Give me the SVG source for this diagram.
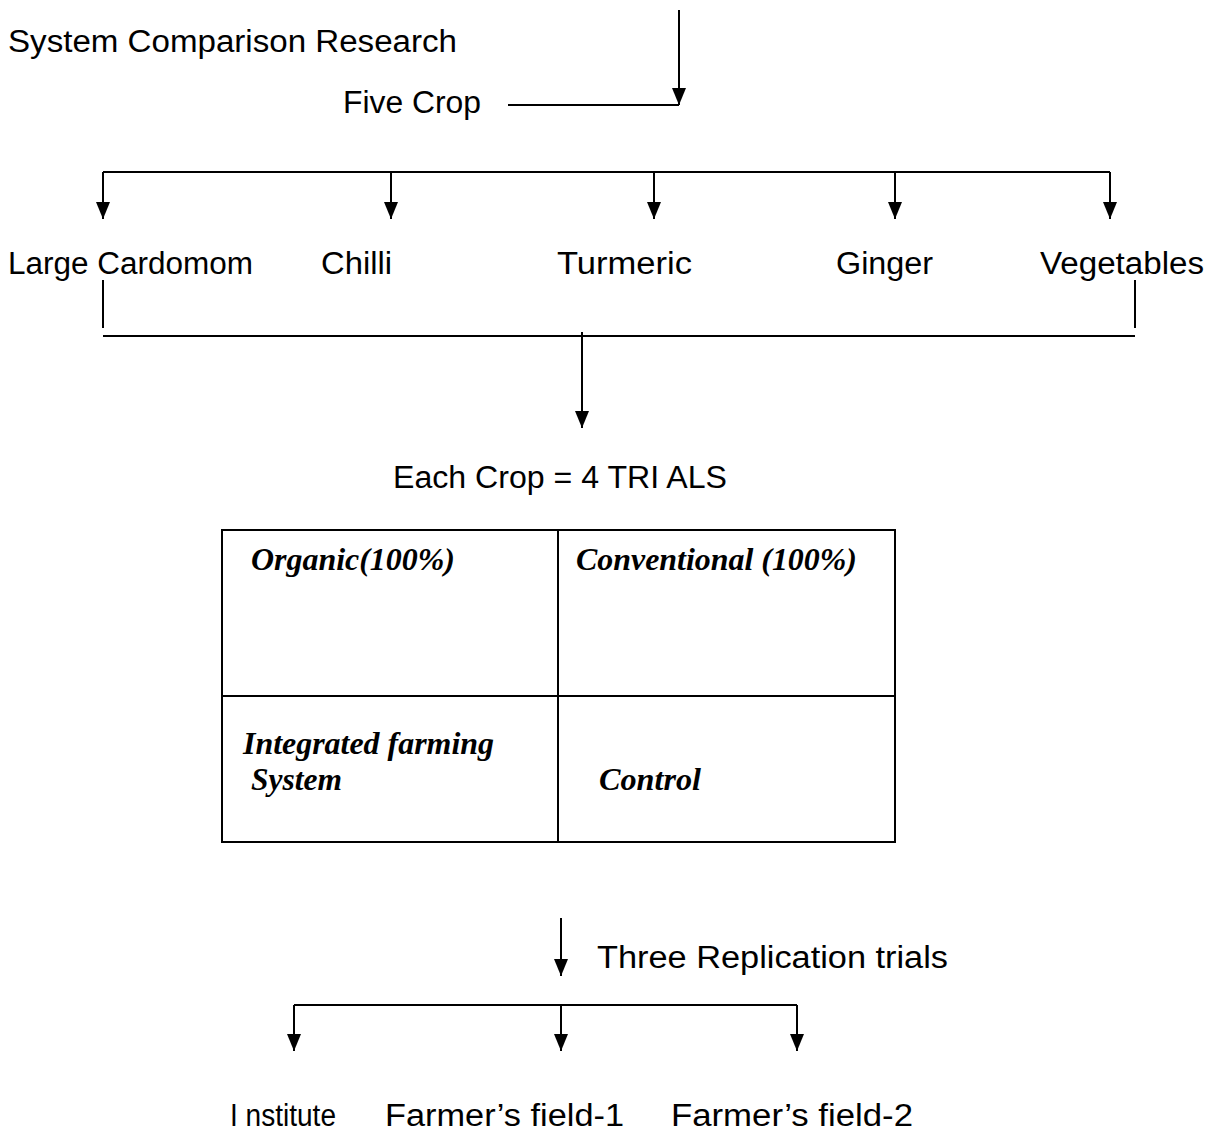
<svg xmlns="http://www.w3.org/2000/svg" width="1217" height="1132" viewBox="0 0 1217 1132">
<style>
.t{font-family:"Liberation Sans",Arial,sans-serif;font-size:31px;fill:#000}
.i{font-family:"Liberation Serif","Times New Roman",serif;font-size:31px;font-style:italic;font-weight:bold;fill:#000}
.l{stroke:#000;stroke-width:2;fill:none}
</style>
<defs>
<marker id="ah" markerWidth="17" markerHeight="14" refX="17" refY="7" orient="auto" markerUnits="userSpaceOnUse" viewBox="0 0 17 14">
<path d="M0,0 L17,7 L0,14 Z" fill="#000"/>
</marker>
</defs>
<rect width="1217" height="1132" fill="#fff"/>
<g id="connectors">
<path class="l" d="M679,10 V105" marker-end="url(#ah)"/>
<line class="l" x1="508" y1="105" x2="679" y2="105"/>
<line class="l" x1="103" y1="172" x2="1110" y2="172"/>
<path class="l" d="M103,172 V219" marker-end="url(#ah)"/>
<path class="l" d="M391,172 V219" marker-end="url(#ah)"/>
<path class="l" d="M654,172 V219" marker-end="url(#ah)"/>
<path class="l" d="M895,172 V219" marker-end="url(#ah)"/>
<path class="l" d="M1110,172 V219" marker-end="url(#ah)"/>
<line class="l" x1="103" y1="280" x2="103" y2="328"/>
<line class="l" x1="1135" y1="280" x2="1135" y2="328"/>
<line class="l" x1="103" y1="336" x2="1135" y2="336"/>
<path class="l" d="M582,332 V428" marker-end="url(#ah)"/>
<path class="l" d="M561,918 V976" marker-end="url(#ah)"/>
<line class="l" x1="294" y1="1005" x2="797" y2="1005"/>
<path class="l" d="M294,1005 V1051" marker-end="url(#ah)"/>
<path class="l" d="M561,1005 V1051" marker-end="url(#ah)"/>
<path class="l" d="M797,1005 V1051" marker-end="url(#ah)"/>
</g>
<g id="title"><text class="t" x="8" y="52" textLength="449" lengthAdjust="spacingAndGlyphs">System Comparison Research</text></g>
<g id="five-crop"><text class="t" x="343" y="113" textLength="138" lengthAdjust="spacingAndGlyphs">Five Crop</text></g>
<g id="large-cardomom"><text class="t" x="8" y="274" textLength="245" lengthAdjust="spacingAndGlyphs">Large Cardomom</text></g>
<g id="chilli"><text class="t" x="321" y="274" textLength="71" lengthAdjust="spacingAndGlyphs">Chilli</text></g>
<g id="turmeric"><text class="t" x="557" y="274" textLength="135" lengthAdjust="spacingAndGlyphs">Turmeric</text></g>
<g id="ginger"><text class="t" x="836" y="274" textLength="97" lengthAdjust="spacingAndGlyphs">Ginger</text></g>
<g id="vegetables"><text class="t" x="1040" y="274" textLength="164" lengthAdjust="spacingAndGlyphs">Vegetables</text></g>
<g id="each-crop"><text class="t" x="393" y="488" textLength="334" lengthAdjust="spacingAndGlyphs">Each Crop = 4 TRI ALS</text></g>
<g id="trials-table">
<rect class="l" x="222" y="530" width="673" height="312"/>
<line class="l" x1="558" y1="530" x2="558" y2="842"/>
<line class="l" x1="222" y1="696" x2="895" y2="696"/>
<text class="i" x="251" y="570" textLength="204" lengthAdjust="spacingAndGlyphs">Organic(100%)</text>
<text class="i" x="576" y="570" textLength="281" lengthAdjust="spacingAndGlyphs">Conventional (100%)</text>
<text class="i" x="243" y="754" textLength="251" lengthAdjust="spacingAndGlyphs">Integrated farming</text>
<text class="i" x="251" y="790" textLength="91" lengthAdjust="spacingAndGlyphs">System</text>
<text class="i" x="599" y="790" textLength="102" lengthAdjust="spacingAndGlyphs">Control</text>
</g>
<g id="three-replication"><text class="t" x="597" y="968" textLength="351" lengthAdjust="spacingAndGlyphs">Three Replication trials</text></g>
<g id="institute"><text class="t" x="230" y="1126" textLength="106" lengthAdjust="spacingAndGlyphs">I nstitute</text></g>
<g id="farmers-field-1"><text class="t" x="385" y="1126" textLength="239" lengthAdjust="spacingAndGlyphs">Farmer’s field-1</text></g>
<g id="farmers-field-2"><text class="t" x="671" y="1126" textLength="242" lengthAdjust="spacingAndGlyphs">Farmer’s field-2</text></g>
</svg>
